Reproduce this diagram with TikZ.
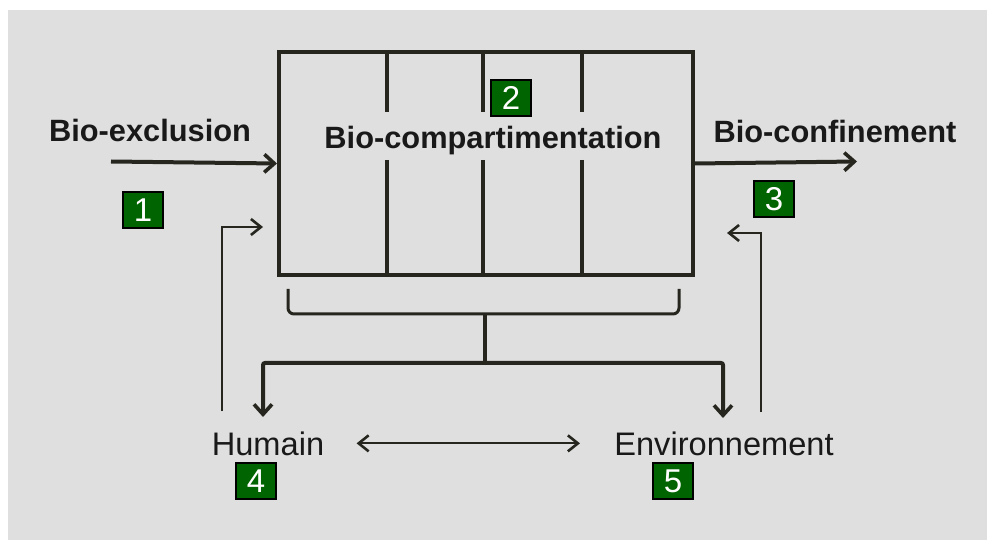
\documentclass[tikz,border=0pt]{standalone}
\usepackage{fontspec}
\setmainfont{Liberation Sans}
\usetikzlibrary{arrows.meta,calc}

\definecolor{bggray}{HTML}{DFDFDF}
\definecolor{ink}{HTML}{26261F}
\definecolor{tagfill}{HTML}{006400}

\begin{document}
\begin{tikzpicture}[x=0.5pt, y=-0.5pt,
  flow/.style={draw=ink, line width=2pt, -{Straight Barb[length=5pt, width=9pt, line width=1.8pt]}},
  fb/.style={draw=ink, line width=1pt, -{Straight Barb[length=5pt, width=8pt, line width=1.3pt]}},
  lab/.style={text=black!90, font=\fontsize{15.4}{18}\selectfont\bfseries, inner sep=0pt, anchor=base},
  sublab/.style={text=black!90, font=\fontsize{16.3}{19}\selectfont, inner sep=3pt, anchor=base},
  numtag/.style={draw=black, fill=tagfill, line width=1.2pt, text=white, inner sep=0pt,
    minimum width=20pt, minimum height=18pt, font=\fontsize{16.5}{18}\selectfont}]
\useasboundingbox (0,0) rectangle (987,540);
\fill[bggray] (8,10) rectangle (987,540);
% main compartment box
\node (comp) [draw=ink, line width=2pt, anchor=north west, inner sep=0pt,
  minimum width=207pt, minimum height=111.5pt] at (277,50) {};
\foreach \x in {387,483,582} {
	\draw[ink, line width=2pt] (\x,50) -- (\x,112);
	\draw[ink, line width=2pt] (\x,160) -- (\x,273);
}
\node[lab] (comptxt) at (493,149) {Bio-compartimentation};
\node[numtag] (t2) at (511,98) {2};
% in / out
\node[lab] (excl) at (150,142) {Bio-exclusion};
\node[lab] (conf) at (835,143) {Bio-confinement};
\coordinate (exclstart) at (111,161.5);
\coordinate (confend) at (857,161.5);
\draw[flow] (exclstart) -- (comp.west);
\draw[flow] (comp.east) -- (confend);
\node[numtag] (t1) at (143,210) {1};
\node[numtag] (t3) at (774,199) {3};
% bracket and fork
\draw[ink, line width=1.5pt, rounded corners=3pt] (288,289) -- (288,314) -- (679,314) -- (679,289);
\coordinate (fork) at (485,363);
\draw[ink, line width=2pt] (485,314) -- (fork);
\node[sublab] (hum) at (268,455) {Humain};
\node[sublab] (env) at (724,455) {Environnement};
\coordinate (humtop) at (263,417);
\coordinate (envtop) at (723,418);
\draw[flow, rounded corners=1pt] (fork) -| (humtop);
\draw[flow, rounded corners=1pt] (fork) -| (envtop);
\node[numtag] (t4) at (256,481) {4};
\node[numtag] (t5) at (673,481) {5};
% feedback
\coordinate (fbL) at (222,411);
\coordinate (inL) at (263,227);
\coordinate (fbR) at (761,412);
\coordinate (inR) at (727,233);
\draw[fb] (fbL) |- (inL);
\draw[fb] (fbR) |- (inR);
\draw[fb, {Straight Barb[length=5pt, width=8pt, line width=1.3pt]}-{Straight Barb[length=5pt, width=8pt, line width=1.3pt]},
  shorten <=13pt, shorten >=14pt] (hum.east) -- (env.west);
\end{tikzpicture}
\end{document}
